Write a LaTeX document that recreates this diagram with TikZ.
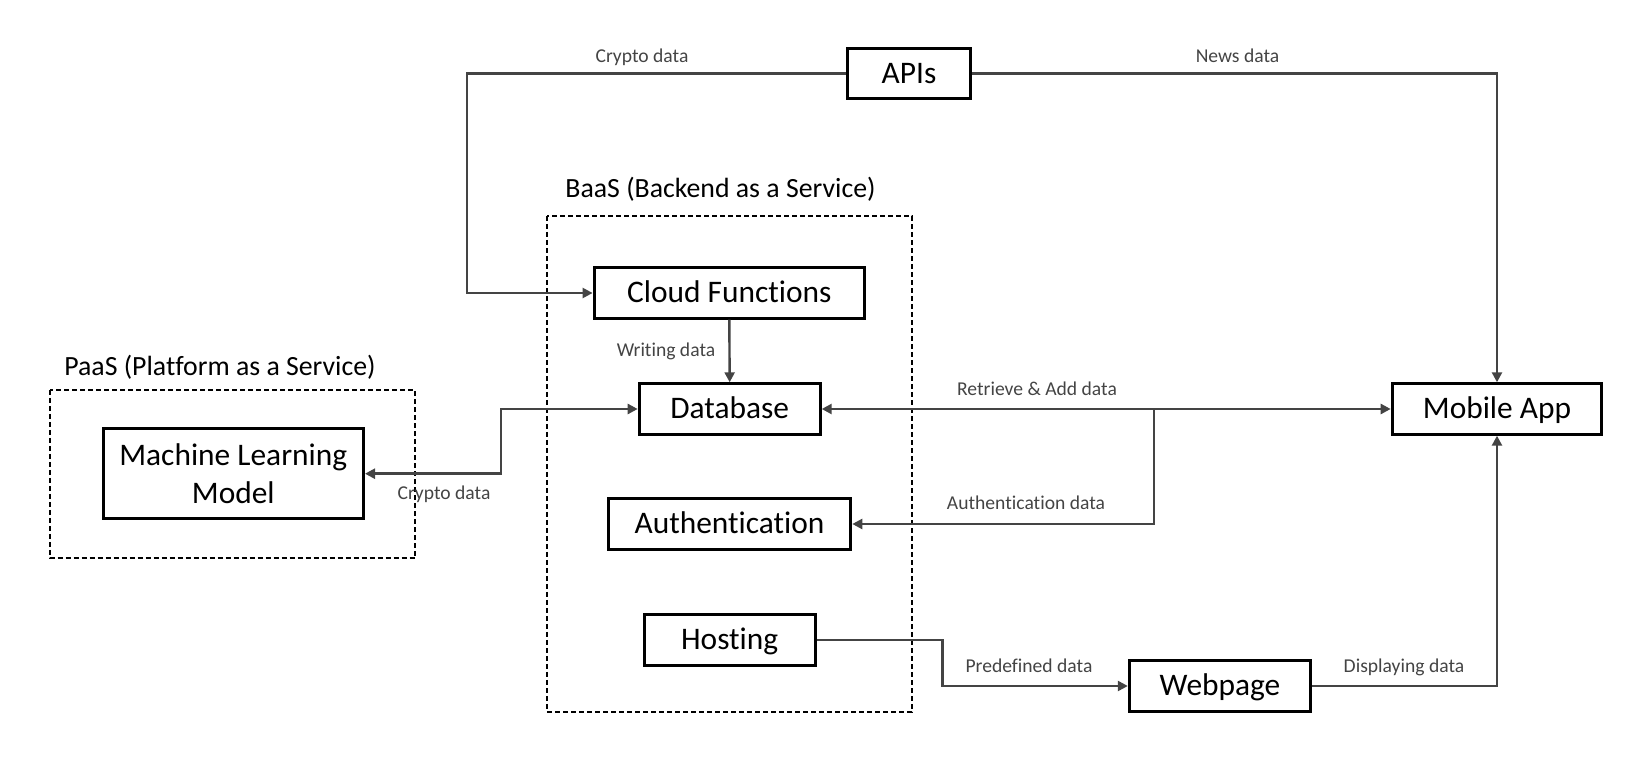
\documentclass[tikz,border=0pt]{standalone}
\usepackage{fontspec}
\setmainfont{Carlito}[Ligatures=NoCommon]
\usepackage{xcolor}
\usetikzlibrary{arrows.meta}
\definecolor{linegray}{HTML}{444444}

\begin{document}
\begin{tikzpicture}[x=0.5pt,y=-0.5pt,
  >={Triangle[length=5pt,width=5pt]},
  box/.style={draw,line width=1.5pt,inner sep=0pt,align=center,minimum height=25.2pt,
              font=\fontsize{15.7pt}{19pt}\selectfont},
  oneline/.style={box,text height=12pt,text depth=2pt},
  lbl/.style={anchor=base,inner sep=0pt,text=linegray,font=\fontsize{9.8pt}{12pt}\selectfont},
  ttl/.style={anchor=base,inner sep=0pt,font=\fontsize{13.9pt}{16pt}\selectfont},
  grp/.style={draw,line width=1pt,dash pattern=on 2.5pt off 1.5pt},
  conn/.style={draw=linegray,line width=1.2pt}]

  \useasboundingbox (0,0) rectangle (1635,764);

  % service groups (dashed frames + titles)
  \draw[grp] (50,390) rectangle (415,558.3);
  \draw[grp] (546.7,216) rectangle (912,711.7);
  \node[ttl] (paas) at (220,376) {PaaS (Platform as a Service)};
  \node[ttl] (baas) at (720.5,198) {BaaS (Backend as a Service)};

  % components
  \node[oneline,minimum width=61.7pt]  (apis)     at (909,73.7)    {APIs};
  \node[oneline,minimum width=135.2pt] (cloudfn)  at (729.3,293)   {Cloud Functions};
  \node[oneline,minimum width=90.5pt]  (database) at (729.7,409)   {Database};
  \node[oneline,minimum width=121.3pt] (auth)     at (729.5,524)   {Authentication};
  \node[oneline,minimum width=85.5pt]  (hosting)  at (729.7,640)   {Hosting};
  \node[box,minimum width=130.2pt,minimum height=44.8pt]
                                       (mlmodel)  at (233.3,473.7) {Machine Learning\\Model};
  \node[oneline,minimum width=104.8pt] (mobile)   at (1497,409)    {Mobile App};
  \node[oneline,minimum width=90.7pt]  (webpage)  at (1220,686)    {Webpage};

  % bend points of the routed lines
  \coordinate (cryptobend) at (466.7,180);
  \coordinate (mlbend)     at (501,440);
  \coordinate (authbend)   at (1154,409);
  \coordinate (hostbend)   at (942.3,660);

  % data flows
  \draw[conn,->] (apis.west) -- (apis.west -| cryptobend) |- (cloudfn.west);
  \draw[conn,->] (apis.east) -| (mobile.north);
  \draw[conn,->] (cloudfn.south) -- (database.north);
  \draw[conn,<->] (mlmodel.east) -| (mlbend) |- (database.west);
  \draw[conn,<->] (database.east) -- (mobile.west);
  \draw[conn,->] (authbend) |- (auth.east);
  \draw[conn,->] (hosting.east) -| (hostbend) |- (webpage.west);
  \draw[conn,->] (webpage.east) -| (mobile.south);

  % flow labels
  \node[lbl] (lcryptotop) at (642,62.6)    {Crypto data};
  \node[lbl] (lnews)      at (1237.5,62.6) {News data};
  \node[lbl] (lwriting)   at (666,356.6)   {Writing data};
  \node[lbl] (lcryptoml)  at (444,499.3)   {Crypto data};
  \node[lbl] (lretrieve)  at (1037,395.3)  {Retrieve \& Add data};
  \node[lbl] (lauth)      at (1026,509.3)  {Authentication data};
  \node[lbl] (lpredef)    at (1029,672.6)  {Predefined data};
  \node[lbl] (ldisplay)   at (1404,672.6)  {Displaying data};

\end{tikzpicture}
\end{document}
